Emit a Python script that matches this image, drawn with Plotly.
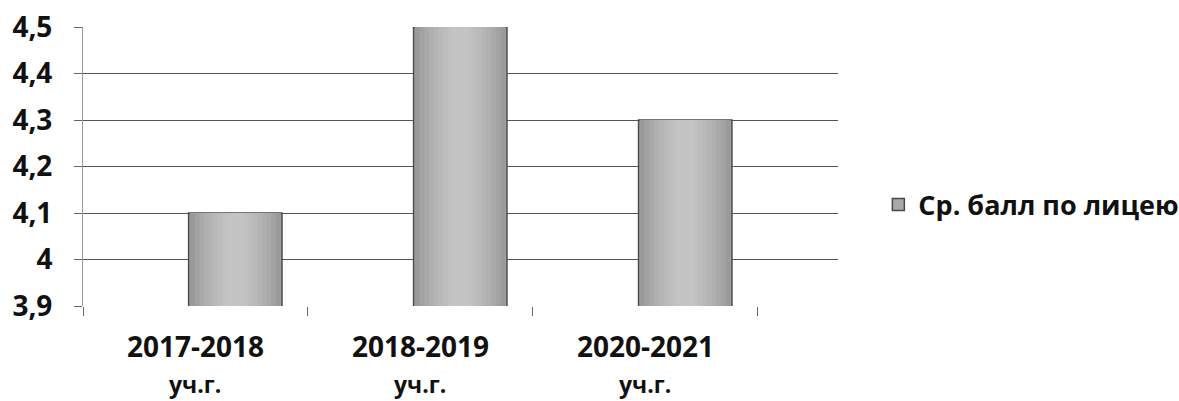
import plotly.graph_objects as go

categories = ["2017-2018", "2018-2019", "2020-2021"]
second_line = ["уч.г.", "уч.г.", "уч.г."]
values = [4.1, 4.5, 4.3]
series_name = "Ср. балл по лицею"

FONT = "Open Sans"
BAR_W = 0.415
BAR_SHIFT = 0.177

fig = go.Figure()
fig.add_trace(go.Bar(
    x=categories, y=values, name=series_name,
    width=BAR_W, offset=BAR_SHIFT - BAR_W / 2,
    marker=dict(color="#a8a8a8", line=dict(color="#4a4a4a", width=1.5)),
    showlegend=True,
))
# soft cylindrical shading of the same bars (lighter toward the middle)
shades = ["#9a9a9a", "#a2a2a2", "#a9a9a9", "#afafaf", "#b4b4b4",
          "#b9b9b9", "#bdbdbd", "#c1c1c1", "#c4c4c4"]
for i, col in enumerate(shades):
    w = BAR_W * (0.97 - i * 0.1)
    fig.add_trace(go.Bar(
        x=categories, y=values, width=w, offset=BAR_SHIFT - w / 2,
        marker=dict(color=col, line=dict(width=0)),
        showlegend=False, hoverinfo="skip",
    ))

for c, s in zip(categories, second_line):
    fig.add_annotation(x=c, y=-0.28, xref="x", yref="paper", text=s,
                       showarrow=False, yanchor="middle", xanchor="center",
                       font=dict(family=FONT, size=23, color="#111", weight="bold"))

fig.update_layout(
    width=1179, height=401,
    margin=dict(l=83, r=341, t=27, b=95),
    paper_bgcolor="white", plot_bgcolor="white",
    separators=", ",
    font=dict(family=FONT, color="#111"),
    legend=dict(xref="container", yref="container", x=0.745, y=0.489,
                xanchor="left", yanchor="middle",
                font=dict(family=FONT, size=27, color="#111", weight="bold"),
                itemwidth=30),
    barmode="overlay",
)
fig.update_xaxes(
    type="category", range=[-0.5, 2.856], automargin=False,
    tickson="boundaries", ticks="outside", ticklen=9, tickcolor="#666", tickwidth=1,
    showgrid=False, showline=False, zeroline=False,
    ticklabelstandoff=22,
    tickfont=dict(family=FONT, size=28, color="#111", weight="bold"),
)
fig.update_yaxes(
    range=[3.9, 4.5], tick0=3.9, dtick=0.1, automargin=False,
    showgrid=True, gridcolor="#555", gridwidth=1,
    ticks="outside", ticklen=8, tickcolor="#666",
    showline=True, linecolor="#999", linewidth=1, zeroline=False,
    ticklabelstandoff=16,
    tickfont=dict(family=FONT, size=28, color="#111", weight="bold"),
)
fig.write_html("out.html", config={"displayModeBar": False},
               post_script="document.body.style.margin='0';document.body.style.overflow='hidden';")
